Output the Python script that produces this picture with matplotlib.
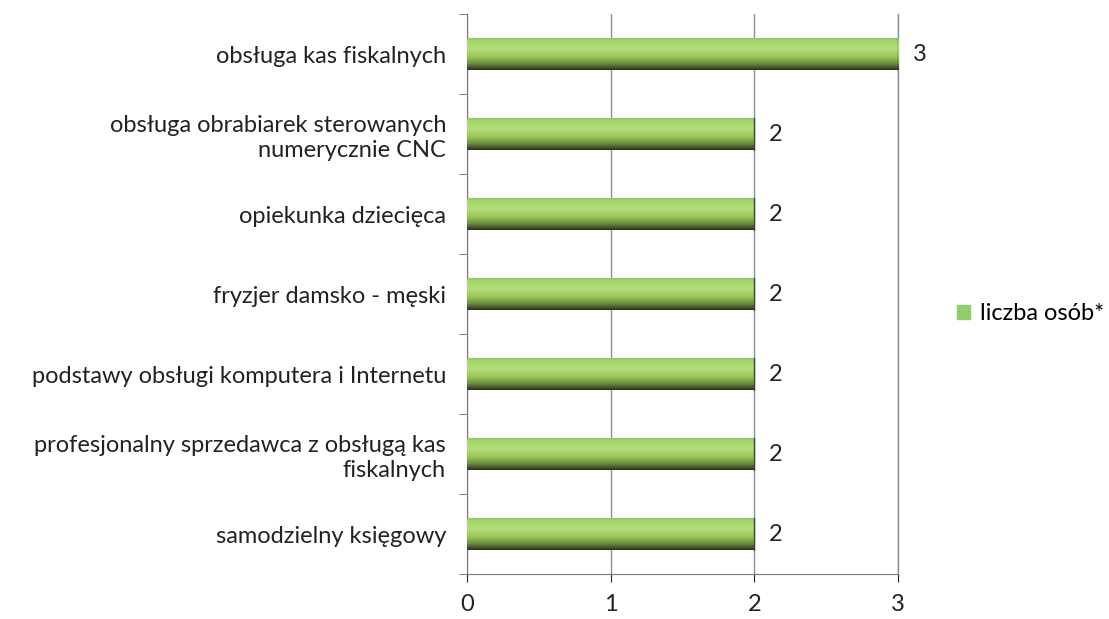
import matplotlib.pyplot as plt
import numpy as np
from matplotlib.colors import LinearSegmentedColormap
from matplotlib.patches import Patch

plt.rcParams['font.family'] = ['Lato', 'DejaVu Sans']

kategorie = [
    'obsługa kas fiskalnych',
    'obsługa obrabiarek sterowanych\nnumerycznie CNC',
    'opiekunka dziecięca',
    'fryzjer damsko - męski',
    'podstawy obsługi komputera i Internetu',
    'profesjonalny sprzedawca z obsługą kas\nfiskalnych',
    'samodzielny księgowy',
]
liczba = [3, 2, 2, 2, 2, 2, 2]

fig = plt.figure(figsize=(11.09, 6.19), dpi=100)
ax = fig.add_axes([0.421, 0.072, 0.389, 0.905])

y = np.arange(len(kategorie))
h = 0.4
bars = ax.barh(y, liczba, height=h, color='none', edgecolor='none', zorder=3)

# cylinder-like shading: light on top, dark at the bottom
cmap = LinearSegmentedColormap.from_list('cyl', [
    (0.0, '#8fbf58'), (0.1, '#a2d468'), (0.35, '#b4df7a'),
    (0.6, '#98c85c'), (0.82, '#6b8840'), (1.0, '#2e2e22')])
grad = np.linspace(1, 0, 64).reshape(-1, 1)
for b in bars:
    x0, y0 = b.get_x(), b.get_y()
    w, hh = b.get_width(), b.get_height()
    im = ax.imshow(grad, cmap=cmap, aspect='auto', origin='lower',
                   extent=[x0, x0 + w, y0 + hh, y0], zorder=3)
    im.set_clip_path(b)
    ax.plot([x0 + w, x0 + w], [y0, y0 + hh], color='#3c4a2a', lw=1, zorder=4)

for yi, v in zip(y, liczba):
    ax.text(v + 0.1, yi, str(v), va='center', ha='left', fontsize=17, color='#222222')

ax.set_xlim(0, 3)
ax.set_ylim(len(kategorie) - 0.5, -0.5)
ax.set_xticks([0, 1, 2, 3])
ax.set_yticks(y)
ax.set_yticklabels(kategorie, fontsize=17, color='#222222')
ax.set_yticks(np.arange(-0.5, len(kategorie)), minor=True)
ax.tick_params(axis='y', which='major', length=0, pad=15)
ax.tick_params(axis='y', which='minor', length=6, color='#666666')
ax.tick_params(axis='x', labelsize=17, colors='#222222', length=6, pad=8)
ax.xaxis.grid(True, color='#8a8f99', lw=1)
ax.axvline(3, color='#8a8f99', lw=1, zorder=0, clip_on=False)
ax.set_axisbelow(True)
for s in ['top', 'right']:
    ax.spines[s].set_visible(False)
ax.spines['left'].set_color('#777777')
ax.spines['bottom'].set_color('#777777')

fig.legend(handles=[Patch(color='#93cc6a', label='liczba osób*')],
           loc='center left', bbox_to_anchor=(0.844, 0.493), frameon=False,
           fontsize=17, handlelength=0.55, handleheight=0.55, handletextpad=0.4)

fig.savefig('out.png', dpi=100)
